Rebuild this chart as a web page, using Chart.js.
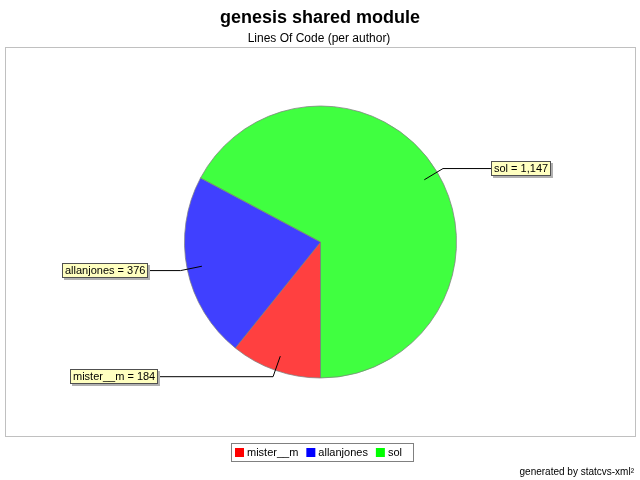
<!DOCTYPE html>
<html>
<head>
<meta charset="utf-8">
<script src="https://cdn.jsdelivr.net/npm/chart.js@4"></script>
<style>
html,body{margin:0;padding:0;background:#fff;}
#c{display:block;}
</style>
</head>
<body>
<canvas id="c" width="640" height="480"></canvas>
<script>
const titleText = 'genesis shared module';
const subtitleText = 'Lines Of Code (per author)';
const footerText = 'generated by statcvs-xml\u00B2';
const authors = ['mister__m', 'allanjones', 'sol'];
const linesOfCode = [184, 376, 1147];
const sliceColors = ['rgba(255,0,0,0.75)', 'rgba(0,0,255,0.75)', 'rgba(0,255,0,0.75)'];
const legendColors = ['#ff0000', '#0000ff', '#00ff00'];

const FONT = '"Liberation Sans", Arial, sans-serif';

const jfreePlugin = {
  id: 'jfree',
  beforeDraw(chart) {
    const ctx = chart.ctx;
    const a = chart.chartArea;
    ctx.save();
    ctx.fillStyle = '#fff';
    ctx.fillRect(0, 0, chart.width, chart.height);
    // plot border
    ctx.strokeStyle = '#c0c0c0';
    ctx.lineWidth = 1;
    ctx.strokeRect(a.left + 0.5, a.top + 0.5, a.right - a.left - 1, a.bottom - a.top - 1);
    // titles
    ctx.fillStyle = '#000';
    ctx.textAlign = 'center';
    ctx.textBaseline = 'alphabetic';
    ctx.font = 'bold 18px ' + FONT;
    ctx.fillText(titleText, chart.width / 2, 23);
    ctx.font = '12px ' + FONT;
    ctx.fillText(subtitleText, chart.width / 2 - 1, 42);
    ctx.restore();
  },
  afterDatasetsDraw(chart) {
    const ctx = chart.ctx;
    const meta = chart.getDatasetMeta(0);
    const labels = chart.data.labels;
    const data = chart.data.datasets[0].data;
    ctx.save();
    ctx.font = '11px ' + FONT;
    ctx.textBaseline = 'middle';
    meta.data.forEach((arc, i) => {
      const p = arc.getProps(['x', 'y', 'startAngle', 'endAngle', 'outerRadius'], true);
      const R = p.outerRadius;
      const mid = (p.startAngle + p.endAngle) / 2;
      const c = Math.cos(mid), s = Math.sin(mid);
      const x1 = p.x + c * R * 0.89, y1 = p.y + s * R * 0.89;
      const x2 = p.x + c * R * 1.05, y2 = p.y + s * R * 1.05;
      const right = c >= 0;
      const dist = R * 1.155 + R * 0.113 * Math.abs(c);
      const lx = right ? p.x + dist : p.x - dist;
      const text = labels[i] + ' = ' + data[i].toLocaleString('en-US');
      const tw = ctx.measureText(text).width;
      const bw = Math.round(tw + 6), bh = 15;
      const bx = Math.round(right ? lx : lx - bw);
      const by = Math.round(y2 - bh / 2);
      // link
      ctx.strokeStyle = '#000';
      ctx.lineWidth = 1;
      ctx.beginPath();
      ctx.moveTo(x1, y1);
      ctx.lineTo(x2, y2);
      ctx.lineTo(right ? bx : bx + bw, y2);
      ctx.stroke();
      // shadow
      ctx.fillStyle = '#b0b0b0';
      ctx.fillRect(bx + 2, by + 2, bw, bh);
      // box
      ctx.fillStyle = '#ffffc0';
      ctx.fillRect(bx, by, bw, bh);
      ctx.strokeStyle = '#505050';
      ctx.strokeRect(bx + 0.5, by + 0.5, bw - 1, bh - 1);
      ctx.fillStyle = '#000';
      ctx.textAlign = 'left';
      ctx.fillText(text, bx + 3, by + bh / 2 + 0.5);
    });
    ctx.restore();
  },
  afterDraw(chart) {
    const ctx = chart.ctx;
    const labels = chart.data.labels;
    ctx.save();
    ctx.font = '11px ' + FONT;
    ctx.textBaseline = 'middle';
    const widths = labels.map(l => ctx.measureText(l).width);
    let total = 4 + 3;
    widths.forEach(w => { total += 9 + 3 + w + 8; });
    const bw = Math.round(total), bh = 18;
    const bx = Math.round(chart.width / 2 + 2 - bw / 2);
    const by = 443;
    ctx.strokeStyle = '#808080';
    ctx.lineWidth = 1;
    ctx.strokeRect(bx + 0.5, by + 0.5, bw, bh);
    let x = bx + 4;
    labels.forEach((l, i) => {
      ctx.fillStyle = legendColors[i];
      ctx.fillRect(x, by + 5, 9, 9);
      ctx.fillStyle = '#000';
      ctx.textAlign = 'left';
      ctx.fillText(l, x + 12, by + 10);
      x += 9 + 3 + widths[i] + 8;
    });
    // footer
    ctx.font = '10px ' + FONT;
    ctx.textAlign = 'right';
    ctx.textBaseline = 'alphabetic';
    ctx.fillText(footerText, 634, 475);
    ctx.restore();
  }
};

new Chart(document.getElementById('c'), {
  type: 'pie',
  data: {
    labels: authors,
    datasets: [{
      data: linesOfCode,
      backgroundColor: sliceColors,
      borderColor: 'rgba(128,128,128,0.75)',
      borderWidth: 1,
      radius: 136
    }]
  },
  options: {
    responsive: false,
    animation: false,
    rotation: 180,
    layout: { padding: { left: 5, right: 4, top: 47, bottom: 43 } },
    plugins: {
      legend: { display: false },
      tooltip: { enabled: false },
      title: { display: false }
    },
    events: []
  },
  plugins: [jfreePlugin]
});
</script>
</body>
</html>
